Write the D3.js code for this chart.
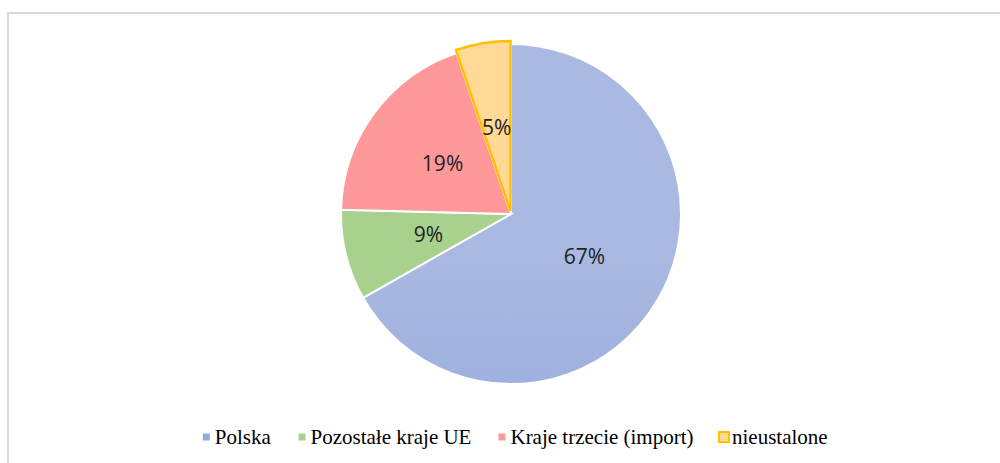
<!DOCTYPE html>
<html>
<head>
<meta charset="utf-8">
<script src="https://cdn.jsdelivr.net/npm/d3@7"></script>
<style>
  body { margin: 0; background: #fff; }
  svg { display: block; }
  .legend text { font-family: "Times New Roman", Times, "Liberation Serif", "DejaVu Serif", serif; }
</style>
</head>
<body>
<svg id="chart"></svg>
<script>
// values (shares, percent)
var categories = ["Polska", "Pozostałe kraje UE", "Kraje trzecie (import)", "nieustalone"];
var values = [66.8, 8.6, 19.4, 5.2];
var labels = ["67%", "9%", "19%", "5%"];

var width = 1000, height = 463;
var cx = 511, cy = 214, radius = 170;

var fills = ["url(#blueGrad)", "#a9d18e", "#ff9999", "#ffd995"];
var legendFills = ["#8faadc", "#a9d18e", "#ff9999", "#ffd995"];

var svg = d3.select("#chart")
  .attr("width", width)
  .attr("height", height);

var defs = svg.append("defs");
var grad = defs.append("linearGradient")
  .attr("id", "blueGrad")
  .attr("gradientUnits", "userSpaceOnUse")
  .attr("x1", 0).attr("y1", cy - radius)
  .attr("x2", 0).attr("y2", cy + radius);
grad.append("stop").attr("offset", "0%").attr("stop-color", "#aab9e1");
grad.append("stop").attr("offset", "100%").attr("stop-color", "#8aa2da");

// chart frame (only left and top edges are visible in the crop)
svg.append("path")
  .attr("d", "M8," + height + " V13 H" + width)
  .attr("fill", "none")
  .attr("stroke", "#d9d9d9")
  .attr("stroke-width", 2);

var data = categories.map(function (c, i) {
  return {name: c, value: values[i], label: labels[i], i: i};
});

var pie = d3.pie()
  .sort(null)
  .value(function (d) { return d.value; });

var arcs = pie(data);

var arc = d3.arc()
  .innerRadius(0)
  .outerRadius(radius);

var labelArc = d3.arc()
  .innerRadius(radius * 0.5)
  .outerRadius(radius * 0.5);

var g = svg.append("g")
  .attr("transform", "translate(" + cx + "," + cy + ")");

// exploded offset for the last slice
function offset(d) {
  if (d.data.i !== 3) return [0, 0];
  var a = (d.startAngle + d.endAngle) / 2;
  return [Math.sin(a) * 3, -Math.cos(a) * 3];
}

g.selectAll("path.slice")
  .data(arcs)
  .enter().append("path")
  .attr("class", "slice")
  .attr("d", arc)
  .attr("transform", function (d) {
    var o = offset(d);
    return "translate(" + o[0] + "," + o[1] + ")";
  })
  .attr("fill", function (d) { return fills[d.data.i]; })
  .attr("stroke", function (d) { return d.data.i === 3 ? "#ffc000" : "#fff"; })
  .attr("stroke-width", function (d) { return d.data.i === 3 ? 2.5 : 2; })
  .attr("stroke-linejoin", "miter");

g.selectAll("text.lbl")
  .data(arcs)
  .enter().append("text")
  .attr("class", "lbl")
  .attr("transform", function (d) {
    var c = labelArc.centroid(d), o = offset(d);
    return "translate(" + (c[0] + o[0]) + "," + (c[1] + o[1]) + ")";
  })
  .attr("text-anchor", "middle")
  .attr("dy", "0.35em")
  .style("font-family", "'Open Sans', 'Noto Sans', sans-serif")
  .style("font-size", "21px")
  .style("fill", "#222")
  .text(function (d) { return d.data.label; });

// legend
var legend = svg.append("g")
  .attr("class", "legend")
  .attr("transform", "translate(0,437)");

var items = legend.selectAll("g.item")
  .data(data)
  .enter().append("g")
  .attr("class", "item");

items.append("rect")
  .attr("x", function (d) { return d.i === 3 ? -5 : -3.5; })
  .attr("y", function (d) { return d.i === 3 ? -5 : -3.5; })
  .attr("width", function (d) { return d.i === 3 ? 10 : 7; })
  .attr("height", function (d) { return d.i === 3 ? 10 : 7; })
  .attr("fill", function (d) { return legendFills[d.i]; })
  .attr("stroke", function (d) { return d.i === 3 ? "#ffc000" : "none"; })
  .attr("stroke-width", 2);

items.append("text")
  .attr("x", function (d) { return d.i === 3 ? 8 : 8.5; })
  .attr("dy", "0.33em")
  .style("font-size", "21px")
  .style("fill", "#000")
  .text(function (d) { return d.name; });

// lay items out left to right, centred under the pie
var gap = 27;
var widths = [];
items.each(function () {
  widths.push(this.getBBox().width);
});
var total = d3.sum(widths) + gap * (widths.length - 1);
var x = 516 - total / 2 + 3.5;
items.attr("transform", function (d, i) {
  var t = "translate(" + x + ",0)";
  x += widths[i] + gap;
  return t;
});
</script>
</body>
</html>
